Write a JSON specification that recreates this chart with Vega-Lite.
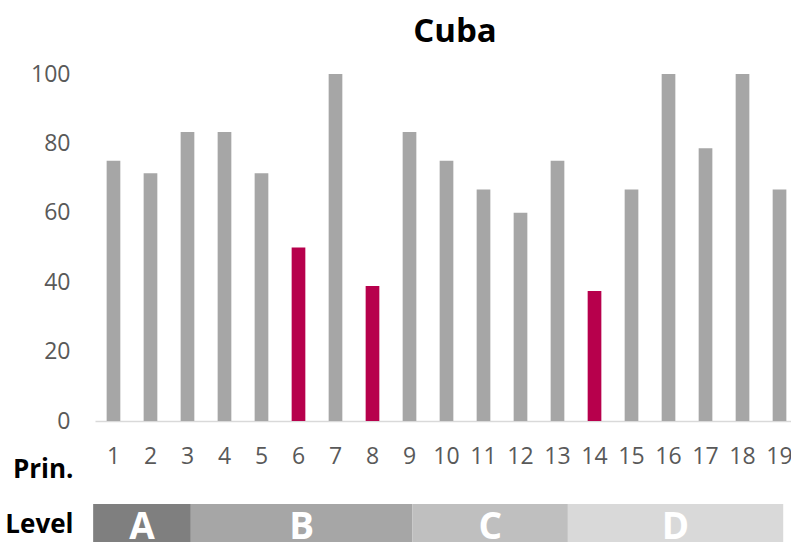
{
  "$schema": "https://vega.github.io/schema/vega-lite/v6.json",
  "width": 696,
  "height": 347,
  "autosize": {"type": "none"},
  "padding": {"left": 95, "top": 74, "right": 0, "bottom": 121},
  "background": "white",
  "config": {"view": {"stroke": null}, "font": "Open Sans"},
  "title": {
    "text": "Cuba",
    "font": "Open Sans",
    "fontSize": 33,
    "fontWeight": "bold",
    "color": "#000000",
    "anchor": "middle",
    "dx": 12,
    "dy": -10
  },
  "datasets": {
    "scores": [
      {"principle": "1", "score": 75},
      {"principle": "2", "score": 71.4},
      {"principle": "3", "score": 83.3},
      {"principle": "4", "score": 83.3},
      {"principle": "5", "score": 71.4},
      {"principle": "6", "score": 50},
      {"principle": "7", "score": 100},
      {"principle": "8", "score": 38.9},
      {"principle": "9", "score": 83.3},
      {"principle": "10", "score": 75},
      {"principle": "11", "score": 66.7},
      {"principle": "12", "score": 60},
      {"principle": "13", "score": 75},
      {"principle": "14", "score": 37.5},
      {"principle": "15", "score": 66.7},
      {"principle": "16", "score": 100},
      {"principle": "17", "score": 78.6},
      {"principle": "18", "score": 100},
      {"principle": "19", "score": 66.7}
    ],
    "levels": [
      {"row": "Level", "level": "A", "start": 0.45, "end": 3.09},
      {"row": "Level", "level": "B", "start": 3.09, "end": 9.08},
      {"row": "Level", "level": "C", "start": 9.08, "end": 13.28},
      {"row": "Level", "level": "D", "start": 13.28, "end": 19.1}
    ]
  },
  "layer": [
    {
      "data": {"name": "scores"},
      "mark": {"type": "bar"},
      "encoding": {
        "x": {
          "field": "principle",
          "type": "ordinal",
          "sort": null,
          "scale": {"paddingInner": 0.63, "paddingOuter": 0.22, "align": 0.715},
          "axis": {
            "title": ["Prin.", "Level"],
            "titleFont": "Open Sans",
            "titleFontSize": 26,
            "titleFontWeight": "bold",
            "titleColor": "#000000",
            "titleAlign": "right",
            "titleBaseline": "alphabetic",
            "titleX": -22,
            "titleY": 56,
            "titleLineHeight": 55,
            "labelAngle": 0,
            "labelFont": "Open Sans",
            "labelFontSize": 23,
            "labelColor": "#595959",
            "labelPadding": 24,
            "ticks": false,
            "domainColor": "#d9d9d9",
            "domainWidth": 1.3
          }
        },
        "y": {
          "field": "score",
          "type": "quantitative",
          "scale": {"domain": [0, 100], "nice": false},
          "axis": {
            "values": [0, 20, 40, 60, 80, 100],
            "title": null,
            "domain": false,
            "ticks": false,
            "grid": false,
            "labelFont": "Open Sans",
            "labelFontSize": 23,
            "labelColor": "#595959",
            "labelPadding": 25
          }
        },
        "color": {
          "condition": {"test": "datum.score < 55", "value": "#b7004c"},
          "value": "#a6a6a6"
        }
      }
    },
    {
      "data": {"name": "levels"},
      "transform": [{"calculate": "(datum.start + datum.end) / 2", "as": "mid"}],
      "encoding": {
        "y": {
          "field": "row",
          "type": "nominal",
          "scale": {"range": [430, 468], "paddingInner": 0, "paddingOuter": 0},
          "axis": null
        }
      },
      "layer": [
        {
          "mark": {"type": "rect"},
          "encoding": {
            "x": {
              "field": "start",
              "type": "quantitative",
              "scale": {"domain": [0.5, 19.31], "nice": false, "zero": false},
              "axis": null
            },
            "x2": {"field": "end"},
            "color": {
              "field": "level",
              "type": "nominal",
              "scale": {"domain": ["A", "B", "C", "D"], "range": ["#7f7f7f", "#a6a6a6", "#bfbfbf", "#d9d9d9"]},
              "legend": null
            }
          }
        },
        {
          "mark": {
            "type": "text",
            "color": "#ffffff",
            "font": "Open Sans",
            "fontSize": 37,
            "fontWeight": "bold",
            "baseline": "alphabetic",
            "dy": 16
          },
          "encoding": {
            "x": {
              "field": "mid",
              "type": "quantitative",
              "scale": {"domain": [0.5, 19.31], "nice": false, "zero": false},
              "axis": null
            },
            "text": {"field": "level"}
          }
        }
      ]
    }
  ],
  "resolve": {"scale": {"x": "independent", "y": "independent", "color": "independent"}}
}
